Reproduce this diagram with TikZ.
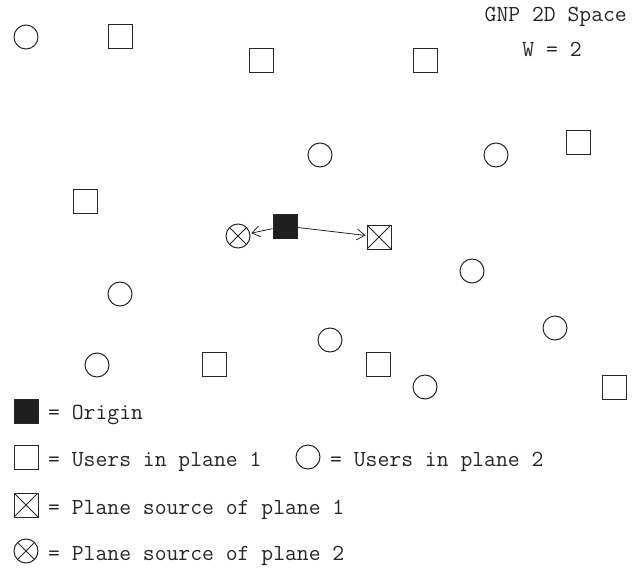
\documentclass[tikz,border=0pt]{standalone}
\usepackage{fontspec}
\usetikzlibrary{arrows.meta}
\tikzset{
  sq/.style={draw=black!85, line width=1pt, minimum size=24pt, inner sep=0pt, rectangle},
  ci/.style={draw=black!85, line width=1pt, minimum size=24pt, inner sep=0pt, circle},
  orig/.style={sq, fill=black!88},
  xsq/.style={sq, path picture={\draw[line width=0.8pt,black!85] (path picture bounding box.north west) -- (path picture bounding box.south east) (path picture bounding box.north east) -- (path picture bounding box.south west);}},
  xci/.style={ci, path picture={\draw[line width=0.8pt,black!85] (path picture bounding box.north west) -- (path picture bounding box.south east) (path picture bounding box.north east) -- (path picture bounding box.south west);}},
  lbl/.style={anchor=base west, inner sep=0pt, font=\ttfamily\fontsize{23pt}{26pt}\selectfont, text=black!85},
  arr/.style={line width=0.8pt, black!85, -{Straight Barb[length=8pt,width=11pt,line width=0.8pt]}, shorten >=1pt, shorten <=0pt}
}
\begin{document}
\begin{tikzpicture}[x=1pt,y=-1pt]
\useasboundingbox (0,0) rectangle (636,572);
% title
\node[lbl, anchor=base east] (title) at (627,22) {GNP 2D Space};
\node[lbl, anchor=base] (w) at (552,57) {W = 2};
% circles (users plane 2)
\node[ci] (c1) at (26,37) {};
\node[ci] (c2) at (320,155) {};
\node[ci] (c3) at (496,155) {};
\node[ci] (c4) at (472,271) {};
\node[ci] (c5) at (120,294) {};
\node[ci] (c6) at (330,340) {};
\node[ci] (c7) at (555,328) {};
\node[ci] (c8) at (97,365) {};
\node[ci] (c9) at (425,387) {};
% squares (users plane 1)
\node[sq] (s1) at (120,37) {};
\node[sq] (s2) at (261,61) {};
\node[sq] (s3) at (425,61) {};
\node[sq] (s4) at (578,143) {};
\node[sq] (s5) at (85,201) {};
\node[sq] (s6) at (214,364) {};
\node[sq] (s7) at (378,364) {};
\node[sq] (s8) at (614,387) {};
% origin and plane sources
\node[orig] (o) at (285,226) {};
\node[xsq] (p1) at (379,237) {};
\node[xci] (p2) at (238,236) {};
\draw[arr] (o) -- (p1);
\draw[arr] (o) -- (p2);
% legend
\node[orig] (lo) at (26,411) {};
\node[lbl] (lot) at (48,419) {= Origin};
\node[sq] (ls) at (26,457) {};
\node[lbl] (lst) at (48,466) {= Users in plane 1};
\node[ci] (lc) at (308,457) {};
\node[lbl] (lct) at (330,466) {= Users in plane 2};
\node[xsq] (lp1) at (26,505) {};
\node[lbl] (lp1t) at (48,514) {= Plane source of plane 1};
\node[xci] (lp2) at (26,551) {};
\node[lbl] (lp2t) at (48,560) {= Plane source of plane 2};
\end{tikzpicture}
\end{document}
